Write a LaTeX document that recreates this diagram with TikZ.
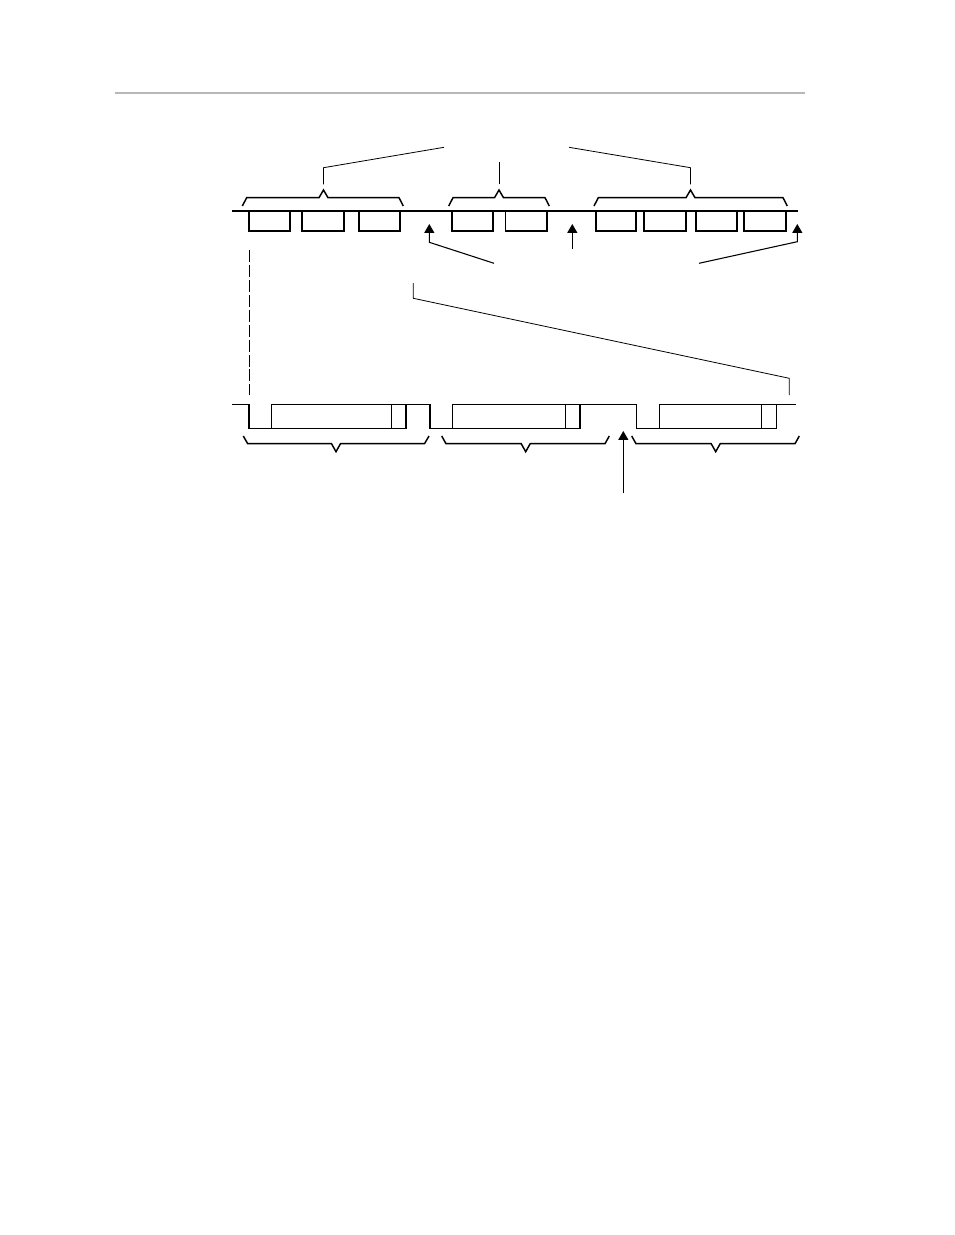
\documentclass[tikz,border=0pt]{standalone}
\usepackage{tikz}
\usetikzlibrary{arrows.meta}
\begin{document}
\begin{tikzpicture}[x=0.75pt, y=-0.75pt]
        % Define styles
        \tikzset{
            rule/.style={line width=2.2pt, black!28},
            wire/.style={line width=1.5pt},
            level/.style={line width=1.1pt},
            slot/.style={line width=1.4pt},
            brace/.style={line width=1.1pt},
            callout/.style={line width=0.6pt},
            marker/.style={line width=0.8pt, -{Triangle[length=6.6pt,width=7.4pt]}}
        }
        \useasboundingbox (0,0) rectangle (954,1235);

        % Page rule
        \draw [rule] (115,93) -- (805,93);

        % Upper time line and slots
        \draw [wire] (232,211) -- (798,211);
        \foreach \a/\b in {249.3/290, 302.3/344.3, 358.7/400.3, 451.7/493.3, 505.5/546.7,
                           595.7/636, 644.3/685.7, 695.7/736.7, 744/785.7}
            \draw [slot] (\a,211) |- (\b,230.7) -- (\b,211);

        % Upper braces
        \draw [brace] (242.3,206) -- (246.7,197.7) -- (319,197.7) -- (323.5,190) -- (328,197.7) -- (399,197.7) -- (403.3,206);
        \draw [brace] (448.7,206) -- (453,197.7) -- (494.5,197.7) -- (499,190) -- (503.5,197.7) -- (545,197.7) -- (549.3,206);
        \draw [brace] (594,206) -- (598.3,197.7) -- (686,197.7) -- (690.5,190) -- (695,197.7) -- (783,197.7) -- (787.3,206);
        \coordinate (bA) at (323.5,184.3);
        \coordinate (bB) at (499,184.3);
        \coordinate (bC) at (690.5,184.3);
        \coordinate (lblL) at (444,147.3);
        \coordinate (lblR) at (569,147.3);

        % Callouts from the braces
        \draw [callout] (bA) -- (323.5,167.7) -- (lblL);
        \draw [callout] (bB) -- (499,162);
        \draw [callout] (bC) -- (690.5,167.7) -- (lblR);

        % Markers under the upper line
        \coordinate (gapA) at (429.3,224);
        \coordinate (gapB) at (572.3,224);
        \coordinate (gapC) at (797.3,224);
        \draw [marker] (494,263.3) -- (429.3,242.3) -- (gapA);
        \draw [marker] (572.3,249) -- (gapB);
        \draw [marker] (699,263.3) -- (797.3,241.7) -- (gapC);

        % Expansion lines
        \draw [callout, line width=0.8pt, dash pattern=on 9pt off 2.2pt] (249.3,250) -- (249.3,395);
        \draw [callout] (413.3,283) -- (413.3,298.3) -- (789.3,378.3) -- (789.3,395);

        % Lower waveform
        \draw [level] (232.3,404.3) -| (249,428.3) -| (271.7,404.3) -| (430,428.3)
                      -| (452.3,404.3) -| (636.7,428.3) -| (659.3,404.3) -- (796,404.3);
        \draw [level] (271.7,428.3) -| (406,404.3);
        \draw [level] (391.7,404.3) -- (391.7,428.3);
        \draw [level] (452.3,428.3) -| (580,404.3);
        \draw [level] (565.7,404.3) -- (565.7,428.3);
        \draw [level] (659.3,428.3) -| (776.7,404.3);
        \draw [level] (761.7,404.3) -- (761.7,428.3);

        % Lower braces
        \draw [brace] (243.3,436) -- (247.7,443.7) -- (331.5,443.7) -- (336,451.7) -- (340.5,443.7) -- (424.5,443.7) -- (429,436);
        \draw [brace] (441.7,436) -- (446,443.7) -- (521.2,443.7) -- (525.7,451.7) -- (530.2,443.7) -- (605,443.7) -- (609.3,436);
        \draw [brace] (631.7,436) -- (636,443.7) -- (711.2,443.7) -- (715.7,451.7) -- (720.2,443.7) -- (795,443.7) -- (799.3,436);

        % Marker under the lower waveform
        \coordinate (idle) at (623.3,431);
        \draw [marker] (623.3,493.3) -- (idle);
    \end{tikzpicture}
\end{document}
